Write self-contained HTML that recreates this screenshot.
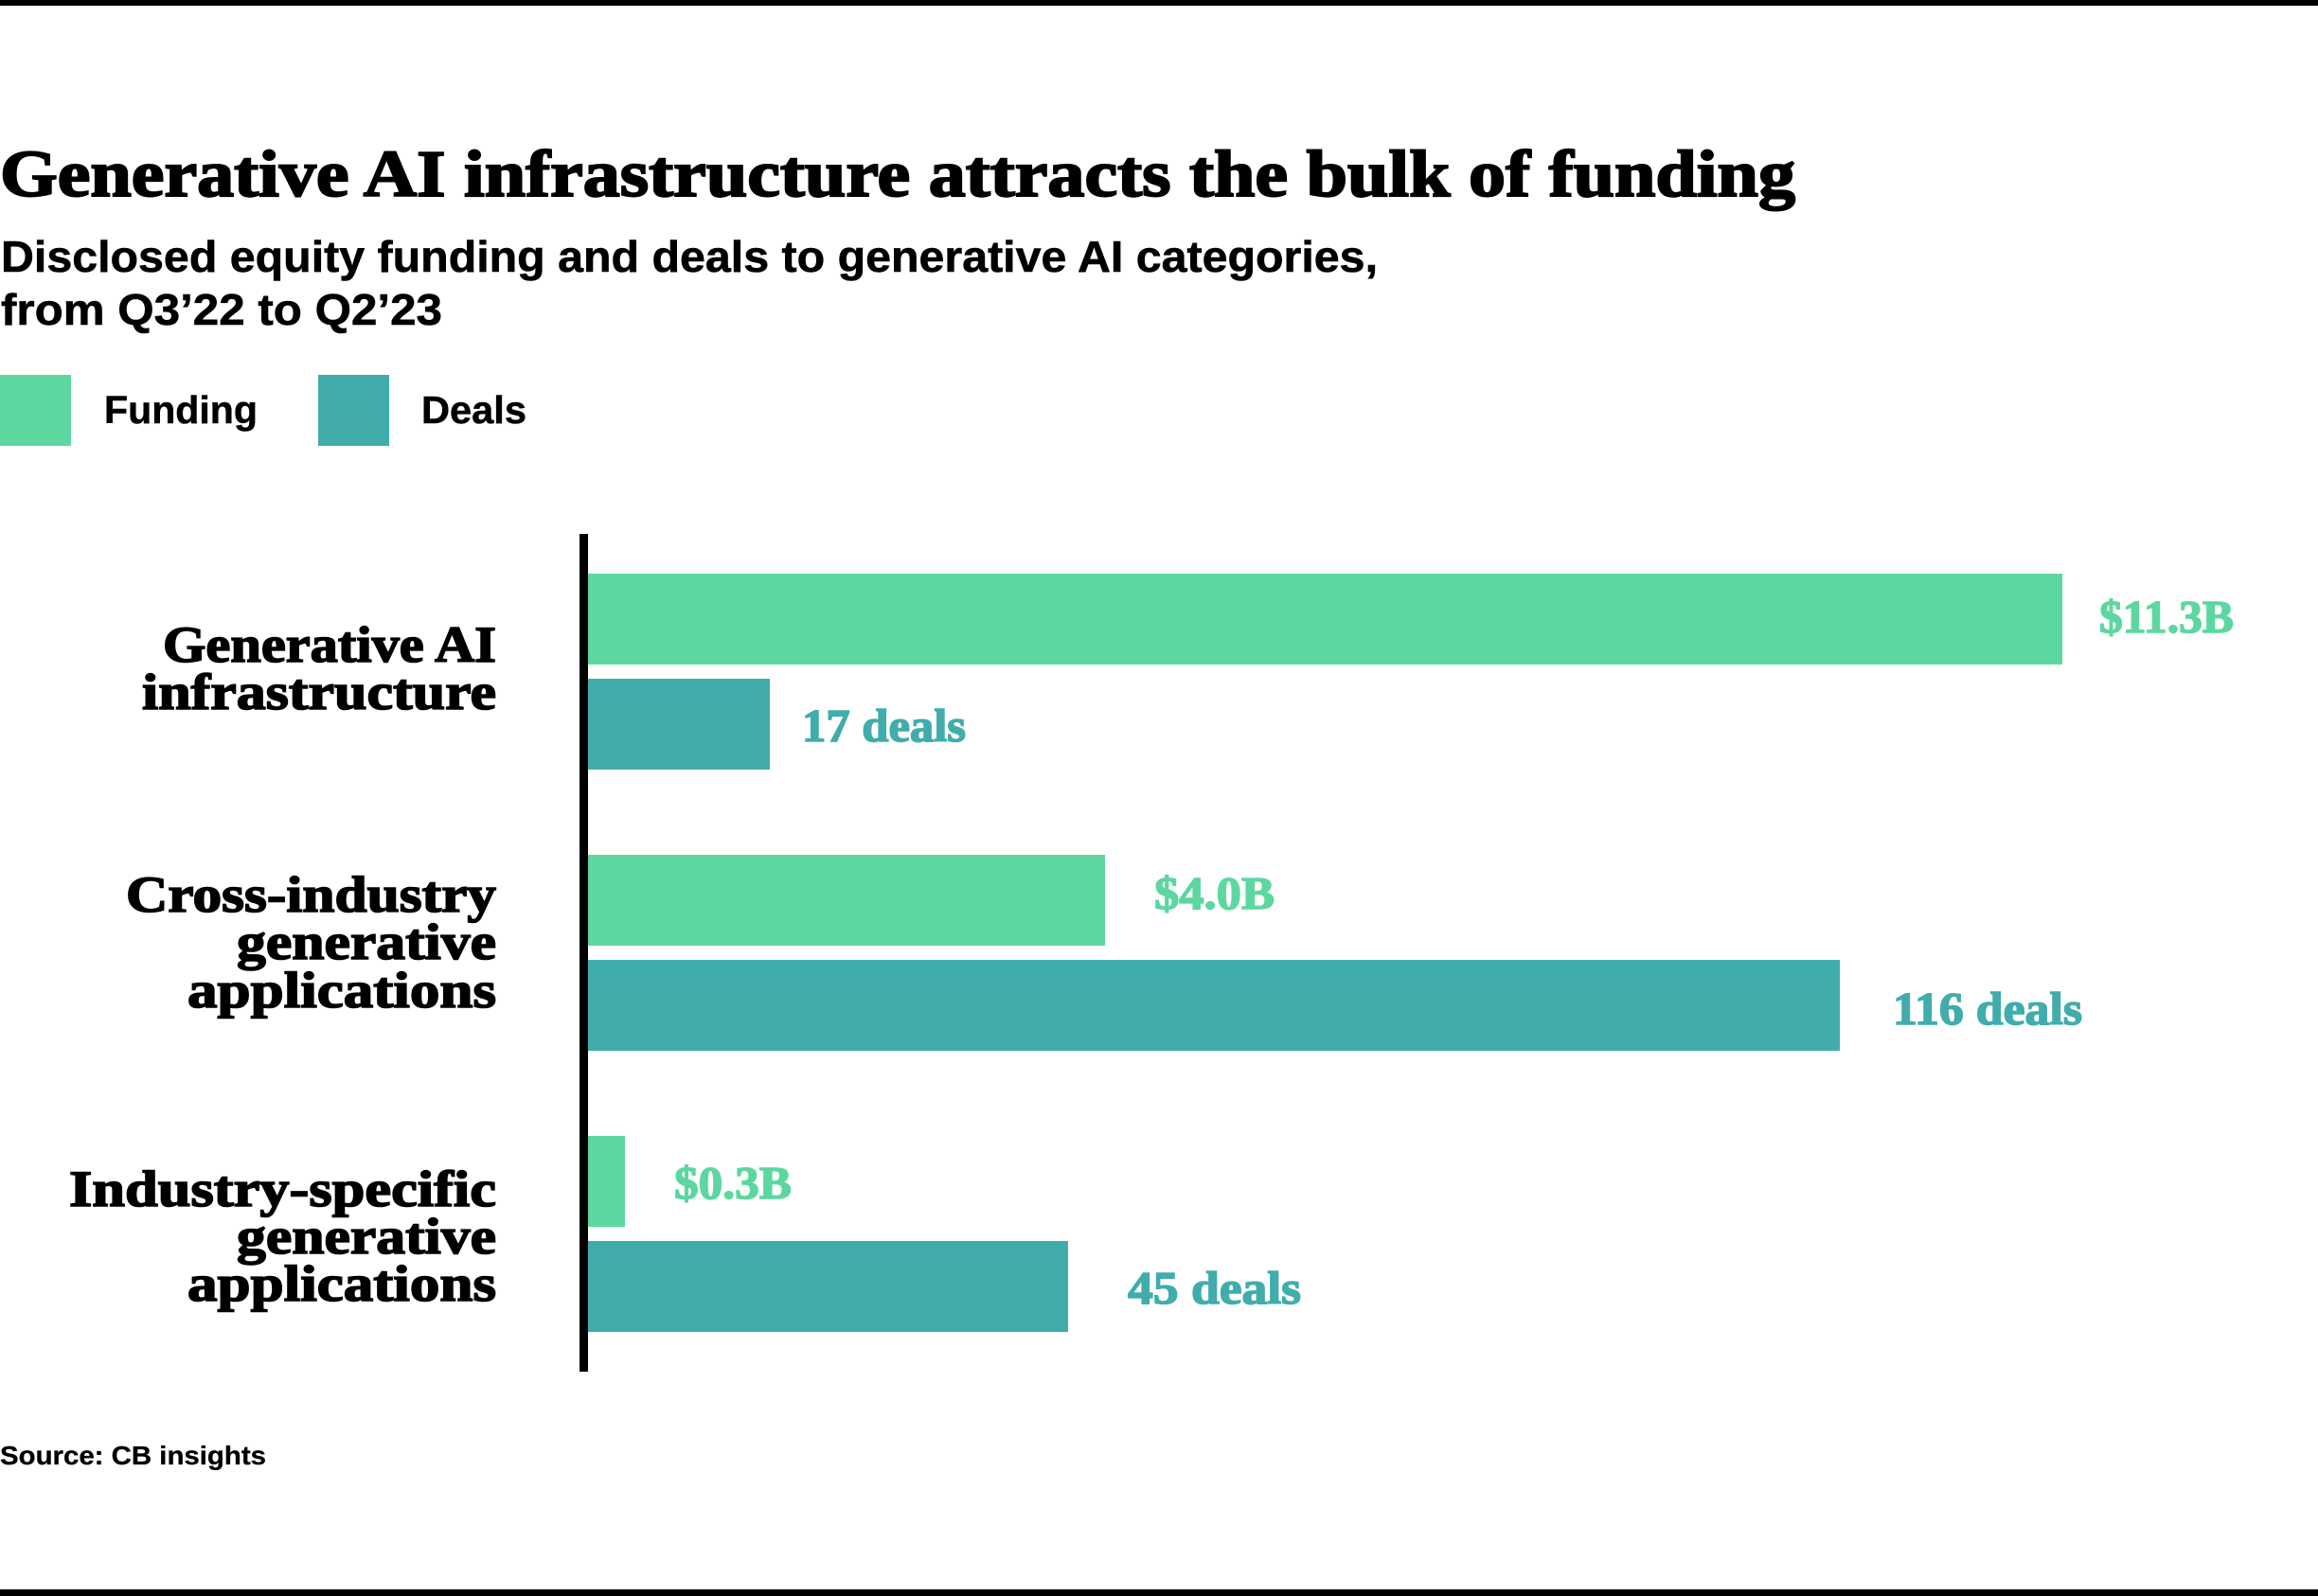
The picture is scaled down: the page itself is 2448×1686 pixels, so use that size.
<!DOCTYPE html>
<html>
<head>
<meta charset="utf-8">
<style>
  html, body { margin: 0; padding: 0; background: #fff; }
  body { width: 2448px; height: 1686px; overflow: hidden; }
  svg { display: block; }
  .serif { font-family: "Liberation Serif", "DejaVu Serif", serif; font-weight: bold; }
  .sans { font-family: "Liberation Sans", "DejaVu Sans", sans-serif; font-weight: bold; }
</style>
</head>
<body>
<svg width="2448" height="1686" viewBox="0 0 2448 1686" xmlns="http://www.w3.org/2000/svg">
  <rect x="0" y="0" width="2448" height="1686" fill="#ffffff"/>
  <!-- top and bottom rules -->
  <rect x="0" y="0" width="2448" height="6" fill="#000"/>
  <rect x="0" y="1679" width="2448" height="7" fill="#000"/>

  <!-- Title -->
  <text class="serif" x="0" y="207" font-size="70" fill="#000" stroke="#000" stroke-width="2" textLength="1896" lengthAdjust="spacingAndGlyphs">Generative AI infrastructure attracts the bulk of funding</text>

  <!-- Subtitle -->
  <text class="sans" x="1" y="287" font-size="46" fill="#000" stroke="#000" stroke-width="0.6" textLength="1454" lengthAdjust="spacingAndGlyphs">Disclosed equity funding and deals to generative AI categories,</text>
  <text class="sans" x="1" y="343" font-size="46" fill="#000" stroke="#000" stroke-width="0.6" textLength="466" lengthAdjust="spacingAndGlyphs">from Q3’22 to Q2’23</text>

  <!-- Legend -->
  <rect x="0" y="396" width="75" height="75" fill="#5DD7A0"/>
  <text class="sans" x="110" y="447" font-size="41" fill="#000" stroke="#000" stroke-width="0.5" textLength="162" lengthAdjust="spacingAndGlyphs">Funding</text>
  <rect x="336" y="396" width="75" height="75" fill="#40ADAC"/>
  <text class="sans" x="445" y="447" font-size="41" fill="#000" stroke="#000" stroke-width="0.5" textLength="111" lengthAdjust="spacingAndGlyphs">Deals</text>

  <!-- Axis line -->
  <rect x="612" y="564" width="9" height="885" fill="#000"/>

  <!-- Bars -->
  <rect x="621" y="606" width="1557" height="96" fill="#5DD7A0"/>
  <rect x="621" y="717" width="192" height="96" fill="#40ADAC"/>
  <rect x="621" y="903" width="546" height="96" fill="#5DD7A0"/>
  <rect x="621" y="1014" width="1322" height="96" fill="#40ADAC"/>
  <rect x="621" y="1200" width="39" height="96" fill="#5DD7A0"/>
  <rect x="621" y="1311" width="507" height="96" fill="#40ADAC"/>

  <!-- Value labels -->
  <text class="serif" x="2217" y="668" font-size="49" fill="#5DD7A0" stroke="#5DD7A0" stroke-width="1.5" textLength="142" lengthAdjust="spacingAndGlyphs">$11.3B</text>
  <text class="serif" x="847" y="783" font-size="49" fill="#40ADAC" stroke="#40ADAC" stroke-width="1.5" textLength="173" lengthAdjust="spacingAndGlyphs">17 deals</text>
  <text class="serif" x="1219" y="960" font-size="49" fill="#5DD7A0" stroke="#5DD7A0" stroke-width="1.5" textLength="127" lengthAdjust="spacingAndGlyphs">$4.0B</text>
  <text class="serif" x="1999" y="1082" font-size="49" fill="#40ADAC" stroke="#40ADAC" stroke-width="1.5" textLength="200" lengthAdjust="spacingAndGlyphs">116 deals</text>
  <text class="serif" x="712" y="1266" font-size="49" fill="#5DD7A0" stroke="#5DD7A0" stroke-width="1.5" textLength="124" lengthAdjust="spacingAndGlyphs">$0.3B</text>
  <text class="serif" x="1191" y="1377" font-size="49" fill="#40ADAC" stroke="#40ADAC" stroke-width="1.5" textLength="183" lengthAdjust="spacingAndGlyphs">45 deals</text>

  <!-- Category labels -->
  <g stroke="#000" stroke-width="1.6">
  <text class="serif" x="172" y="699" font-size="54" fill="#000" textLength="352" lengthAdjust="spacingAndGlyphs">Generative AI</text>
  <text class="serif" x="150" y="749" font-size="54" fill="#000" textLength="374" lengthAdjust="spacingAndGlyphs">infrastructure</text>

  <text class="serif" x="133" y="963" font-size="54" fill="#000" textLength="391" lengthAdjust="spacingAndGlyphs">Cross-industry</text>
  <text class="serif" x="250" y="1013" font-size="54" fill="#000" textLength="274" lengthAdjust="spacingAndGlyphs">generative</text>
  <text class="serif" x="198" y="1064" font-size="54" fill="#000" textLength="326" lengthAdjust="spacingAndGlyphs">applications</text>

  <text class="serif" x="73" y="1274" font-size="54" fill="#000" textLength="451" lengthAdjust="spacingAndGlyphs">Industry-specific</text>
  <text class="serif" x="250" y="1324" font-size="54" fill="#000" textLength="274" lengthAdjust="spacingAndGlyphs">generative</text>
  <text class="serif" x="198" y="1374" font-size="54" fill="#000" textLength="326" lengthAdjust="spacingAndGlyphs">applications</text>
  </g>

  <!-- Source -->
  <text class="sans" x="0" y="1547" font-size="28" fill="#000" stroke="#000" stroke-width="0.3" textLength="281" lengthAdjust="spacingAndGlyphs">Source: CB insights</text>
</svg>
</body>
</html>
